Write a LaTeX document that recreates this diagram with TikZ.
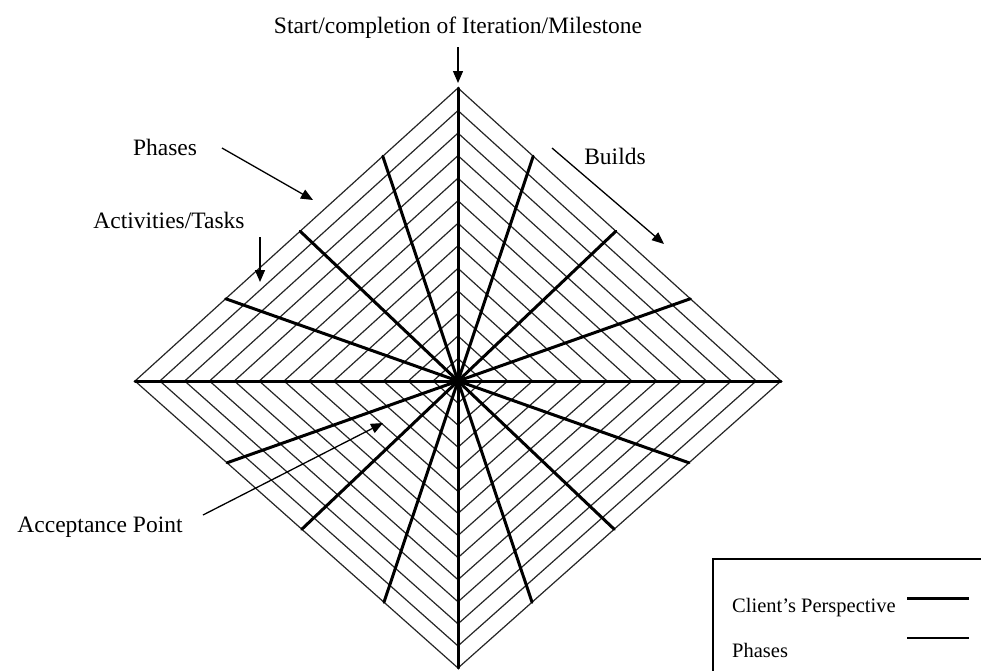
\documentclass[tikz,border=0pt]{standalone}
\usepackage{fontspec}
\setmainfont{Liberation Serif}
\usetikzlibrary{arrows.meta}
\tikzset{
  hatch/.style={line width=1.2pt, black!85},
  spoke/.style={line width=3pt, black, line cap=round},
  pointer/.style={line width=1.3pt, black, -{Triangle[length=12pt,width=10pt]}},
  label/.style={inner sep=0pt, font=\fontsize{23.5}{28}\selectfont},
  legendtext/.style={inner sep=0pt, anchor=base west, font=\fontsize{20.5}{24}\selectfont},
}
\begin{document}
\begin{tikzpicture}[x=1pt,y=-1pt]
\useasboundingbox (0,0) rectangle (981,670);
\clip (0,0) rectangle (981,670);
\fill[white] (0,0) rectangle (981,670);

\coordinate (C) at (458,381);

% concentric diamonds (phases / activities)
\foreach \k in {1,...,13} {
  \pgfmathsetmacro\f{\k/13}
  \draw[hatch, shift={(C)}] (-323*\f,0) -- (0,-293*\f) -- (323*\f,0) -- (0,287*\f) -- cycle;
}

% main axes
\coordinate (L) at (135,381);
\coordinate (R) at (781,381);
\coordinate (T) at (458,88);
\coordinate (B) at (458,668);
\draw[spoke] (L) -- (R);
\draw[spoke] (T) -- (B);

% client's perspective spokes, ending on the outer diamond
\foreach \sx in {-1,1} {
  \foreach \sy/\hb in {-1/2.93, 1/2.87} {
    \foreach \t in {19.5,43.5,71.5} {
      \pgfmathsetmacro\r{100/(cos(\t)/3.23 + sin(\t)/\hb)}
      \draw[spoke] (C) -- ++({\sx*\r*cos(\t)}, {\sy*\r*sin(\t)});
    }
  }
}

% labels and pointers
\node[label] (ms) at (458,28) {Start/completion of Iteration/Milestone};
\coordinate (msA) at (458,47);
\coordinate (msB) at (458,83);
\draw[pointer] (msA) -- (msB);

\node[label] (ph) at (165,147) {Phases};
\coordinate (phA) at (222,148);
\coordinate (phB) at (313,200);
\draw[pointer] (phA) -- (phB);

\node[label] (bd) at (615,156) {Builds};
\coordinate (bdA) at (552,148);
\coordinate (bdB) at (664,244);
\draw[pointer] (bdA) -- (bdB);

\node[label] (at) at (169,220) {Activities/Tasks};
\coordinate (atA) at (260,237);
\coordinate (atB) at (260,282);
\draw[pointer] (atA) -- (atB);

\node[label] (ap) at (100,527) {Acceptance Point};
\coordinate (apA) at (203,515);
\coordinate (apB) at (383,423);
\draw[pointer] (apA) -- (apB);

% legend
\draw[line width=1.3pt] (713,559) rectangle (1000,700);
\node[legendtext] (lg1) at (732,612) {Client’s Perspective};
\node[legendtext] (lg2) at (732,657) {Phases};
\coordinate (k1a) at (907,598);
\coordinate (k1b) at (969,598);
\coordinate (k2a) at (907,638);
\coordinate (k2b) at (969,638);
\draw[line width=3pt] (k1a) -- (k1b);
\draw[line width=1.2pt] (k2a) -- (k2b);
\end{tikzpicture}
\end{document}
